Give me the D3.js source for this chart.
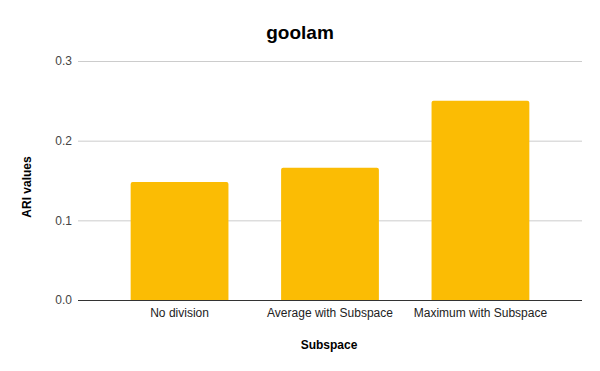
<!DOCTYPE html>
<head>
    <meta charset="utf-8">
    <title>goolam</title>
    <style>
        body { margin: 0; background: #fff; }
        text { font-family: "Liberation Sans", Arial, sans-serif; }
    </style>
</head>
<body>
<svg width="600" height="371"></svg>
<script src="https://d3js.org/d3.v7.min.js"></script>
<script>

    // data
    var categories = ["No division", "Average with Subspace", "Maximum with Subspace"];
    var ariValues = [0.148, 0.166, 0.25];
    var yTicks = [0, 0.1, 0.2, 0.3];

    // plot box (note: "top" is taken by window.top, so use plotTop)
    var svg = d3.select("svg"),
        plotLeft = 78, plotRight = 582, plotTop = 61, plotBottom = 300;

    var x = d3.scaleBand()
        .domain(categories)
        .range([plotLeft, plotRight])
        .paddingInner(0.35)
        .paddingOuter(0.35);

    var y = d3.scaleLinear().domain([0, 0.3]).range([plotBottom, plotTop]);

    // gridlines
    svg.append("g")
        .attr("transform", "translate(" + plotLeft + ",0)")
        .call(d3.axisLeft(y).tickValues(yTicks).tickSize(-(plotRight - plotLeft)).tickFormat(d3.format(".1f")))
        .call(g => g.select(".domain").remove())
        .call(g => g.selectAll("line").attr("stroke", "#cccccc"))
        .call(g => g.selectAll("text").attr("fill", "#444").style("font-size", "12px").attr("x", -6));

    // bars
    svg.append("g").selectAll("path")
        .data(categories)
        .enter().append("path")
            .attr("fill", "#fbbc04")
            .attr("d", (d, i) => {
                var x0 = x(d), w = x.bandwidth(), y0 = y(ariValues[i]), r = 2;
                return "M" + x0 + "," + plotBottom + "V" + (y0 + r) + "Q" + x0 + "," + y0 + " " + (x0 + r) + "," + y0 +
                    "H" + (x0 + w - r) + "Q" + (x0 + w) + "," + y0 + " " + (x0 + w) + "," + (y0 + r) + "V" + plotBottom + "Z";
            });

    // x axis
    svg.append("g")
        .attr("transform", "translate(0," + plotBottom + ")")
        .call(d3.axisBottom(x).tickSize(0).tickPadding(8))
        .call(g => g.select(".domain").attr("stroke", "#333").attr("d", "M" + plotLeft + ",0.5H" + plotRight))
        .call(g => g.selectAll("text").attr("fill", "#222").style("font-size", "12px"));

    // titles
    svg.append("text")
        .attr("x", 300).attr("y", 39)
        .attr("text-anchor", "middle")
        .style("font-size", "19px").style("font-weight", "bold")
        .text("goolam");

    svg.append("text")
        .attr("x", 329).attr("y", 349)
        .attr("text-anchor", "middle")
        .style("font-size", "12px").style("font-weight", "bold")
        .text("Subspace");

    svg.append("text")
        .attr("transform", "translate(31,187) rotate(-90)")
        .attr("text-anchor", "middle")
        .style("font-size", "12px").style("font-weight", "bold")
        .text("ARI values");

</script>
</body>
